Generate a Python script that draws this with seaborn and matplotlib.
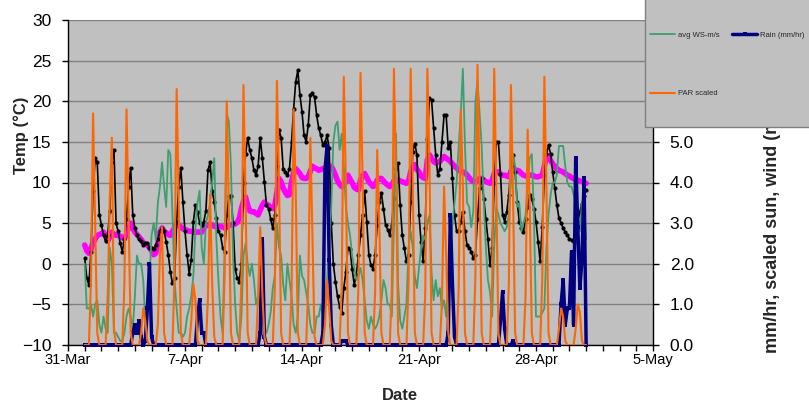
import matplotlib
matplotlib.use('Agg')
import matplotlib.pyplot as plt
import matplotlib.dates as mdates
from matplotlib.patches import Rectangle
from matplotlib.ticker import FormatStrFormatter, FixedLocator
import seaborn as sns
import numpy as np
import pandas as pd

sns.set_theme(style='ticks')
plt.rcParams['font.family'] = ['Liberation Sans', 'DejaVu Sans']

# readings every 3 h from 1 Apr 00:00, one row per day (00 03 06 09 12 15 18 21 h),
# the last value is 1 May 00:00
first_reading = '2008-04-01 00:00'
reading_step = '3h'

temp_c = [
    0.7, -1.8, -2.6, 1.5, 9.0, 13.0, 12.5, 6.0,
    4.8, 3.5, 2.8, 3.5, 6.5, 12.5, 14.0, 5.0,
    4.0, 2.5, 1.5, 3.0, 5.5, 9.5, 11.8, 6.0,
    4.4, 3.5, 3.0, 2.8, 2.3, 2.5, 2.5, 2.0,
    1.9, 1.8, 2.3, 3.0, 4.0, 4.4, 4.0, 2.7,
    1.1, -1.0, -2.4, -1.8, 5.2, 9.5, 11.8, 7.6,
    4.0, 1.1, -1.2, 0.5, 5.2, 7.2, 6.4, 5.0,
    4.8, 5.2, 6.5, 11.5, 12.5, 9.0, 7.6, 5.6,
    4.0, 3.5, 2.0, 1.5, 6.0, 8.3, 8.4, 5.0,
    -0.6, -1.8, -2.2, 0.0, 10.0, 13.5, 15.5, 14.0,
    13.0, 11.5, 10.9, 12.0, 15.5, 13.0, 10.1, 7.2,
    6.8, 5.5, 4.4, 6.0, 12.0, 16.5, 15.5, 11.7,
    11.3, 10.9, 11.7, 15.0, 19.1, 22.4, 23.8, 20.8,
    18.7, 15.8, 15.0, 17.1, 20.8, 21.0, 20.5, 18.3,
    16.7, 15.8, 14.6, 15.0, 15.8, 14.2, 5.0, 0.0,
    -2.2, -4.0, -5.3, -6.0, -3.0, -1.0, 2.0, 1.8,
    -0.6, -2.6, -1.4, 1.1, 3.5, 6.0, 8.9, 5.2,
    1.1, -0.2, -0.6, 1.1, 4.8, 7.6, 8.7, 6.8,
    4.8, 4.2, 3.5, 4.8, 8.1, 11.7, 12.4, 7.2,
    3.5, 1.9, 0.3, 1.1, 7.6, 13.8, 14.8, 13.4,
    6.0, 2.7, 0.3, 4.4, 15.4, 20.4, 20.2, 16.7,
    13.4, 10.9, 11.7, 15.0, 18.3, 18.3, 14.2, 15.0,
    10.5, 6.0, 4.0, 4.0, 5.2, 6.4, 4.0, 2.3,
    2.0, 1.5, 0.7, 1.1, 5.5, 9.3, 10.5, 8.0,
    5.5, 3.0, -0.2, 2.0, 10.0, 15.0, 15.0, 11.0,
    6.0, 5.2, 6.4, 8.5, 12.0, 13.4, 11.3, 7.6,
    5.2, 4.4, 3.9, 5.5, 7.0, 8.5, 8.0, 6.8,
    5.2, 2.7, 0.3, 4.5, 10.9, 13.5, 14.6, 13.5,
    11.3, 9.3, 7.2, 5.6, 5.0, 4.4, 3.9, 3.5,
    3.1, 2.9, 2.7, 3.5, 5.2, 6.4, 7.4, 8.3,
    9.1,
]

# thick magenta trace on the temperature axis (slowly varying temperature)
slow_temp_c = [
    2.3, 1.6, 1.3, 1.8, 2.6, 3.0, 3.5, 3.6,
    3.7, 3.9, 3.5, 2.8, 3.3, 3.9, 3.6, 3.5,
    3.5, 3.4, 3.2, 3.1, 3.6, 4.6, 5.0, 4.4,
    3.9, 3.6, 3.3, 3.0, 2.6, 2.4, 2.3, 2.0,
    1.6, 1.1, 1.3, 2.5, 3.9, 4.4, 4.0, 3.8,
    3.6, 3.5, 4.0, 4.4, 5.0, 4.8, 4.5, 4.3,
    4.2, 4.1, 4.0, 4.0, 3.9, 3.9, 3.9, 3.9,
    3.9, 4.4, 4.7, 4.8, 4.8, 4.8, 4.6, 4.6,
    4.6, 4.6, 4.5, 4.4, 4.5, 4.7, 4.8, 4.8,
    4.9, 5.1, 5.6, 6.8, 7.7, 8.2, 7.2, 6.5,
    6.4, 6.4, 6.2, 6.0, 6.6, 7.2, 7.6, 7.3,
    7.2, 6.9, 6.8, 7.2, 8.8, 10.5, 10.1, 9.3,
    8.8, 8.4, 8.5, 10.1, 11.2, 11.7, 11.4, 11.1,
    10.6, 10.5, 10.5, 10.7, 11.4, 12.0, 11.8, 11.7,
    11.5, 11.6, 11.7, 11.8, 11.9, 12.0, 12.0, 11.5,
    10.9, 10.2, 9.8, 9.5, 9.7, 10.1, 10.9, 10.4,
    10.0, 9.4, 9.2, 9.1, 10.3, 10.9, 11.1, 10.6,
    10.1, 9.8, 9.5, 9.7, 10.3, 10.5, 10.5, 10.2,
    9.9, 9.7, 9.5, 9.7, 10.2, 10.3, 10.3, 10.2,
    10.1, 10.0, 9.9, 10.2, 11.3, 12.0, 12.2, 11.6,
    11.3, 10.8, 10.6, 10.5, 12.8, 13.4, 13.0, 12.6,
    12.4, 12.5, 12.6, 12.9, 13.2, 13.0, 12.8, 12.6,
    12.3, 12.0, 11.8, 11.5, 11.4, 11.3, 11.2, 10.9,
    10.6, 10.3, 10.1, 10.1, 10.1, 10.5, 10.5, 10.3,
    10.1, 10.0, 9.9, 10.3, 11.1, 11.3, 11.3, 11.0,
    10.9, 10.9, 10.8, 10.7, 11.4, 11.7, 11.5, 11.5,
    11.4, 11.1, 10.9, 10.8, 10.8, 10.9, 10.9, 10.8,
    10.7, 10.7, 10.8, 10.9, 12.0, 13.2, 13.3, 12.7,
    12.3, 12.0, 11.7, 11.5, 11.4, 11.3, 11.1, 10.9,
    10.8, 10.6, 10.5, 10.3, 10.3, 10.2, 10.1, 10.0,
    9.9,
]

wind_ms = [
    2.0, 0.9, 0.9, 1.0, 0.7, 1.0, 1.1, 0.5,
    0.3, 0.7, 0.4, 0.3, 2.4, 2.0, 0.3, 0.3,
    0.2, 0.1, 0.1, 0.3, 0.7, 0.9, 0.7, 0.4,
    1.2, 2.2, 2.0, 2.0, 1.6, 0.6, 1.2, 1.6,
    2.7, 3.0, 2.6, 3.5, 3.9, 4.5, 3.9, 3.4,
    4.8, 4.7, 3.2, 1.6, 0.9, 0.3, 0.3, 0.2,
    0.3, 0.7, 0.9, 1.2, 1.7, 2.9, 3.5, 3.8,
    2.4, 2.0, 3.0, 3.2, 3.5, 4.0, 4.6, 2.6,
    1.6, 0.7, 0.3, 2.4, 5.7, 5.5, 4.4, 2.2,
    1.0, 0.3, 0.1, 0.7, 2.2, 2.5, 2.0, 1.7,
    2.0, 1.6, 1.0, 1.2, 0.9, 0.6, 0.4, 0.3,
    0.5, 0.8, 1.4, 1.7, 3.0, 2.4, 2.2, 1.5,
    1.1, 2.0, 1.6, 1.2, 0.5, 0.3, 0.7, 2.2,
    1.7, 1.6, 1.3, 1.0, 0.5, 0.3, 0.3, 0.7,
    0.7, 1.0, 0.7, 1.1, 1.6, 2.4, 3.4, 5.0,
    5.4, 5.5, 4.8, 5.2, 4.4, 3.4, 3.0, 2.7,
    2.2, 1.9, 1.6, 1.7, 1.9, 1.6, 1.1, 0.6,
    0.4, 0.7, 0.5, 0.4, 0.5, 0.7, 1.1, 1.6,
    1.4, 1.0, 1.0, 0.7, 3.0, 5.2, 1.5, 0.6,
    0.4, 0.7, 1.0, 2.4, 2.8, 2.4, 1.7, 1.4,
    1.9, 2.4, 2.7, 2.6, 3.0, 3.2, 1.8, 1.1,
    1.6, 1.2, 1.4, 0.9, 1.1, 0.7, 1.7, 2.4,
    3.0, 3.5, 4.0, 4.9, 5.7, 6.8, 4.9, 3.5,
    3.4, 2.9, 3.3, 6.0, 6.5, 5.7, 4.9, 3.5,
    2.4, 1.6, 1.3, 0.7, 2.4, 3.4, 3.2, 3.0,
    2.9, 2.8, 2.9, 3.2, 4.0, 4.7, 4.4, 3.4,
    3.5, 2.8, 3.0, 3.2, 3.9, 4.6, 4.7, 3.2,
    0.7, 0.7, 0.7, 0.8, 0.9, 2.4, 3.2, 3.7,
    4.0, 4.0, 4.2, 4.9, 4.9, 4.9, 4.4, 4.0,
    3.9, 3.9, 3.7, 3.5, 3.2, 2.8, 3.5, 3.4,
    2.6,
]

rain_mmhr = [
    0, 0, 0, 0, 0, 0, 0, 0,
    0, 0, 0, 0, 0, 0, 0, 0,
    0, 0, 0, 0, 0, 0, 0, 0.3,
    0.5, 0.3, 0.6, 0.2, 0, 0.1, 0.9, 2.0,
    0.2, 0, 0, 0, 0, 0, 0, 0,
    0, 0, 0, 0, 0, 0, 0, 0,
    0, 0, 0, 0, 0, 0, 0.7, 1.1,
    0.3, 0.3, 0, 0, 0, 0, 0, 0,
    0, 0, 0, 0, 0, 0, 0, 0,
    0, 0, 0, 0, 0, 0, 0, 0,
    0, 0, 0, 0, 0.3, 2.6, 0.2, 0,
    0, 0, 0, 0, 0, 0, 0, 0,
    0, 0, 0, 0, 0, 0, 0, 0,
    0, 0, 0, 0, 0, 0, 0, 0,
    0, 0, 0.3, 4.3, 4.9, 2.1, 0.5, 0,
    0, 0, 0, 0.1, 0.1, 0.1, 0, 0,
    0, 0, 0, 0, 0, 0, 0, 0,
    0, 0, 0, 0, 0, 0, 0, 0,
    0, 0, 0, 0, 0, 0, 0, 0,
    0, 0, 0, 0, 0, 0, 0, 0,
    0, 0, 0, 0, 0, 0, 0, 0,
    0, 0, 0, 0, 0, 0, 0.3, 3.2,
    1.5, 0.2, 0, 0, 0, 0, 0, 0,
    0, 0, 0, 0, 0, 0, 0, 0,
    0, 0, 0, 0, 0, 0, 0, 0.6,
    1.3, 0.4, 0, 0, 0, 0.1, 0, 0,
    0, 0, 0, 0, 0, 0, 0, 0,
    0, 0, 0, 0, 0, 0, 0, 0,
    0, 0, 0, 0, 1.0, 1.6, 0.5, 0.9,
    0.9, 2.3, 0.5, 4.6, 2.9, 1.4, 2.1, 4.1,
    0,
]

par_scaled = [
    0, 0, 0, 1.6, 5.7, 3.0, 0.3, 0,
    0, 0, 0, 1.2, 3.6, 5.1, 0.4, 0,
    0, 0, 0, 1.5, 5.8, 3.2, 0.3, 0,
    0, 0, 0, 0.3, 0.9, 0.6, 0.1, 0,
    0, 0, 0, 0.5, 2.2, 2.9, 0.3, 0,
    0, 0, 0, 1.7, 6.3, 3.5, 0.3, 0,
    0, 0, 0, 0.6, 1.5, 1.1, 0.1, 0,
    0, 0, 0, 1.2, 3.7, 1.5, 0.2, 0,
    0, 0, 0, 1.8, 6.0, 3.3, 0.3, 0,
    0, 0, 0, 1.6, 6.4, 3.6, 0.3, 0,
    0, 0, 0, 1.2, 2.9, 1.3, 0.2, 0,
    0, 0, 0, 1.4, 6.5, 4.0, 0.3, 0,
    0, 0, 0, 1.3, 5.8, 3.8, 0.3, 0,
    0, 0, 0, 1.5, 5.1, 2.6, 0.2, 0,
    0, 0, 0, 0.5, 1.6, 0.9, 0.1, 0,
    0, 0, 0, 1.4, 6.6, 4.0, 0.3, 0,
    0, 0, 0, 1.4, 6.7, 4.1, 0.3, 0,
    0, 0, 0, 1.3, 4.8, 3.0, 0.3, 0,
    0, 0, 0, 1.4, 6.8, 4.2, 0.3, 0,
    0, 0, 0, 1.5, 6.8, 4.0, 0.3, 0,
    0, 0, 0, 1.3, 6.8, 4.5, 0.3, 0,
    0, 0, 0, 1.1, 3.9, 2.2, 0.3, 0,
    0, 0, 0, 1.4, 5.8, 3.9, 0.3, 0,
    0, 0, 0, 1.7, 6.9, 4.0, 0.3, 0,
    0, 0, 0, 1.6, 6.8, 3.9, 0.3, 0,
    0, 0, 0, 1.5, 6.4, 3.7, 0.3, 0,
    0, 0, 0, 1.2, 5.3, 3.4, 0.3, 0,
    0, 0, 0, 1.6, 6.6, 3.8, 0.3, 0,
    0, 0, 0, 0.4, 0.9, 0.7, 0.1, 0,
    0, 0, 0, 0.4, 1.0, 0.8, 0.1, 0,
    0,
]

# axis setup
x_start, x_end = '2008-03-31', '2008-05-05'
week_ticks = pd.date_range(x_start, x_end, freq='7D')
temp_ticks = np.arange(-10, 31, 5)
right_ticks = np.arange(0, 5.1, 1)   # 6.0-8.0 sit under the legend box

COLORS = {
    'temp': 'black',
    'slow': '#FF00FF',
    'wind': '#3D9F6F',
    'rain': '#000080',
    'par': '#FF6600',
    'plot_bg': '#C0C0C0',
    'grid': '#808080',
}

times = pd.date_range(first_reading, periods=len(temp_c), freq=reading_step)
df = pd.DataFrame({
    'time': times,
    'temp': temp_c,
    'slow': slow_temp_c,
    'wind': wind_ms,
    'rain': rain_mmhr,
    'par': par_scaled,
})

fig = plt.figure(figsize=(8.09, 4.07), dpi=100)
ax = fig.add_axes([68 / 809, 1 - 345 / 407, 585 / 809, 325 / 407])
ax.set_facecolor(COLORS['plot_bg'])
ax2 = ax.twinx()

# temperature axis
sns.lineplot(data=df, x='time', y='slow', ax=ax, color=COLORS['slow'], linewidth=4)
sns.lineplot(data=df, x='time', y='temp', ax=ax, color=COLORS['temp'], linewidth=1.2,
             marker='o', markersize=3, markeredgecolor='black', markeredgewidth=0)

# right axis
sns.lineplot(data=df, x='time', y='wind', ax=ax2, color=COLORS['wind'], linewidth=1.3,
             label='avg WS-m/s', legend=False)
sns.lineplot(data=df, x='time', y='rain', ax=ax2, color=COLORS['rain'], linewidth=2.5,
             marker='s', markersize=3, markeredgecolor=COLORS['rain'], markeredgewidth=0,
             label='Rain (mm/hr)', legend=False, clip_on=False)
sns.lineplot(data=df, x='time', y='par', ax=ax2, color=COLORS['par'], linewidth=1.5,
             label='PAR scaled', legend=False)

ax.set_xlim(pd.Timestamp(x_start), pd.Timestamp(x_end))
ax.set_ylim(-10, 30)
ax2.set_ylim(0, 8)
ax.set_yticks(temp_ticks)
ax2.set_yticks(right_ticks)
ax2.yaxis.set_major_formatter(FormatStrFormatter('%.1f'))

ax.xaxis.set_major_locator(FixedLocator(mdates.date2num(week_ticks)))
ax.xaxis.set_major_formatter(mdates.DateFormatter('%-d-%b'))
ax.xaxis.set_minor_locator(mdates.DayLocator())

ax.set_axisbelow(True)
ax.yaxis.grid(True, color=COLORS['grid'], linewidth=1)
ax.xaxis.grid(False)

for a in (ax, ax2):
    a.spines['top'].set_visible(False)
ax.spines['right'].set_visible(False)
ax2.spines['left'].set_visible(False)
ax2.spines['bottom'].set_visible(False)
for side in ('left', 'bottom'):
    ax.spines[side].set_color('black')
    ax.spines[side].set_linewidth(1)
ax2.spines['right'].set_color('black')
ax2.spines['right'].set_linewidth(1)

ax.tick_params(axis='y', labelsize=12.5, length=4, width=1, pad=8, colors='black')
ax.tick_params(axis='x', which='both', length=4, width=1, colors='black')
ax.tick_params(axis='x', which='major', labelsize=10.5, pad=2)
ax2.tick_params(axis='y', labelsize=12.5, length=4, width=1, pad=8, colors='black')

ax.set_xlabel('Date', fontsize=12, fontweight='bold')
ax.xaxis.set_label_coords((400 - 68) / 585, (345 - 396) / 325)
ax.xaxis.label.set_va('center')

ax.set_ylabel('Temp (°C)', fontsize=12, fontweight='bold')
ax.yaxis.set_label_coords((21 - 68) / 585, (345 - 135) / 325)
ax.yaxis.label.set_va('center')

ax2.set_ylabel('mm/hr, scaled sun, wind (m/s)', fontsize=13, fontweight='bold',
               rotation_mode='anchor', ha='left', va='center')
ax2.yaxis.set_label_coords((773 - 68) / 585, (345 - 353) / 325)

# legend box (its upper part runs off the top of the figure)
fig.add_artist(Rectangle((645 / 809, 1 - 127 / 407), 0.4, 0.5, transform=fig.transFigure,
                         facecolor=COLORS['plot_bg'], edgecolor=COLORS['grid'],
                         linewidth=1, zorder=3))
lines = {l.get_label(): l for l in ax2.get_lines()}
order = ['avg WS-m/s', 'PAR scaled', 'Rain (mm/hr)']
fig.legend([lines[k] for k in order], order, ncol=2, loc='upper left',
           bbox_to_anchor=(650 / 809, 1 - 31.5 / 407), frameon=False,
           fontsize=5.5, handlelength=3.3, handletextpad=0.4, columnspacing=1.6,
           labelspacing=6.7, borderpad=0, borderaxespad=0)

fig.savefig('out.png', dpi=100)
plt.close(fig)
